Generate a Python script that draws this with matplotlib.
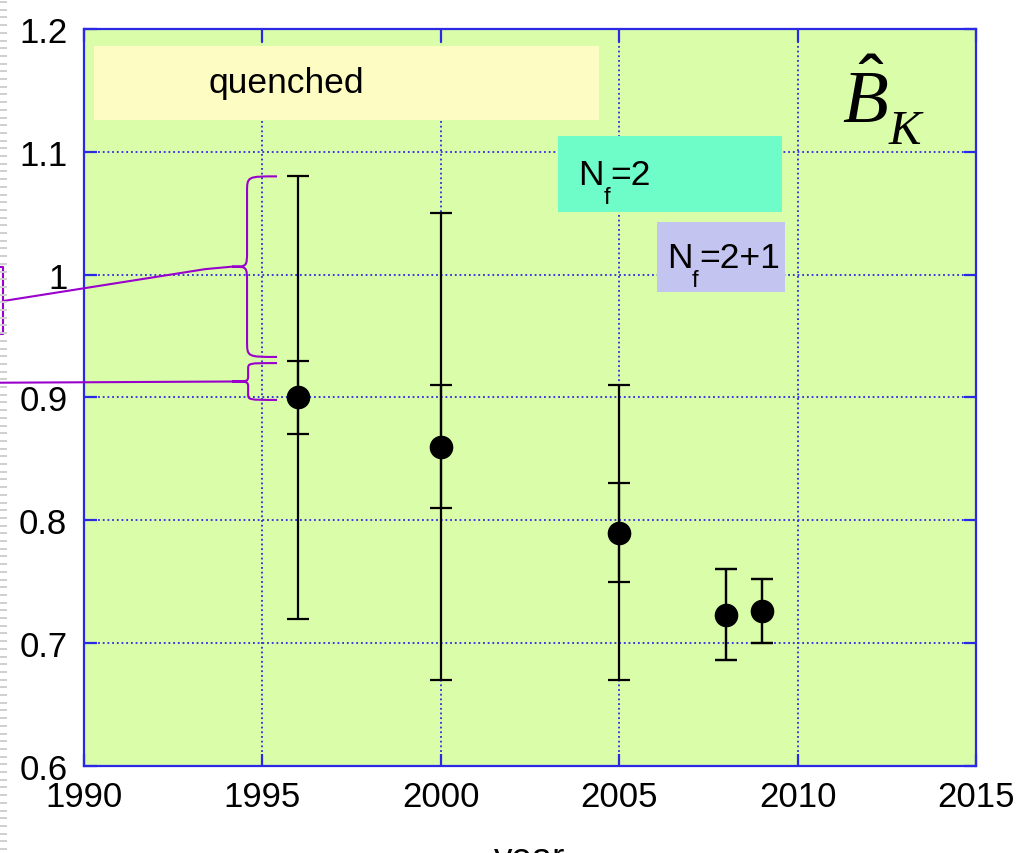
import numpy as np
import matplotlib
matplotlib.use("Agg")
import matplotlib.pyplot as plt
from matplotlib.path import Path
from matplotlib.patches import PathPatch, Rectangle
from matplotlib.collections import LineCollection
from matplotlib.lines import Line2D

plt.rcParams['font.family'] = ['Liberation Sans', 'DejaVu Sans']
plt.rcParams['mathtext.fontset'] = 'custom'
plt.rcParams['mathtext.rm'] = 'Liberation Sans'
plt.rcParams['mathtext.it'] = 'Liberation Serif:italic'
plt.rcParams['mathtext.bf'] = 'Liberation Sans:bold'

# B_K lattice results by year
years = [1996, 2000, 2005, 2008, 2009]
bk_values = [0.900, 0.860, 0.790, 0.723, 0.726]
err_stat = [0.030, 0.050, 0.040, 0.037, 0.026]
err_total = [0.180, 0.190, 0.120, 0.037, 0.026]

x_ticks = [1990, 1995, 2000, 2005, 2010, 2015]
y_ticks = [0.6, 0.7, 0.8, 0.9, 1.0, 1.1, 1.2]
y_tick_labels = ['0.6', '0.7', '0.8', '0.9', '1', '1.1', '1.2']

# shaded label panels: (x0, x1, y0, y1, colour)
panel_boxes = [
    (1990.28, 2004.43, 1.126, 1.186, '#fdfdc3'),
    (2003.28, 2009.56, 1.051, 1.113, '#6efdc8'),
    (2006.06, 2009.65, 0.986, 1.043, '#c4c4f0'),
]
# panel labels: (main, subscript, rest, x, baseline y)
panel_labels = [
    ('quenched', '', '', 1993.5, 1.149),
    ('N', 'f', '=2', 2003.85, 1.074),
    ('N', 'f', '=2+1', 2006.34, 1.006),
]

BLUE = '#2a2ae6'
PURPLE = '#9a00cc'
FS = 25.5

fig = plt.figure(figsize=(10.28, 8.54), dpi=100)
ax = fig.add_axes([0.0817, 0.1019, 0.8677, 0.863])
ax.set_facecolor('#dafdaa')
ax.set_xlim(1990, 2015)
ax.set_ylim(0.6, 1.2)
ax.set_xticks(x_ticks)
ax.set_yticks(y_ticks)
ax.set_yticklabels(y_tick_labels)

for s in ax.spines.values():
    s.set_color(BLUE)
    s.set_linewidth(1.6)
ax.tick_params(direction='in', length=9, width=1.6, color=BLUE,
               top=True, right=True, labelsize=25, labelcolor='black')
ax.tick_params(axis='x', pad=10)
ax.tick_params(axis='y', pad=12)
ax.grid(True, color=BLUE, linestyle=(0, (1, 1.6)), linewidth=1.3, zorder=0)
ax.set_axisbelow(True)

ax.set_xlabel('year', fontsize=26.5, labelpad=20)

# label panels
for x0, x1, y0, y1, col in panel_boxes:
    ax.add_patch(Rectangle((x0, y0), x1 - x0, y1 - y0, facecolor=col,
                           edgecolor='none', zorder=1))
for main, sub, rest, tx, ty in panel_labels:
    ax.text(tx, ty, main, fontsize=FS, ha='left', va='baseline', zorder=2)
    if sub:
        ax.annotate(sub, (tx, ty), xytext=(25, -19), textcoords='offset pixels',
                    fontsize=17, ha='left', va='baseline', zorder=2)
        ax.annotate(rest, (tx, ty), xytext=(32, 0), textcoords='offset pixels',
                    fontsize=FS, ha='left', va='baseline', zorder=2)

# quantity symbol
bx, by = 2011.24, 1.1243
ax.text(bx, by, r'$\hat{B}$', fontsize=54, ha='left', va='baseline', zorder=3)
ax.annotate('K', (bx, by), xytext=(47, -21), textcoords='offset pixels',
            fontsize=35, family='Liberation Serif', style='italic',
            ha='left', va='baseline', zorder=3)

# error bars: total (outer) and statistical (inner)
ax.errorbar(years, bk_values, yerr=err_total, fmt='none', ecolor='black',
            elinewidth=1.6, capsize=8, capthick=1.6, zorder=4)
ax.errorbar(years, bk_values, yerr=err_stat, fmt='o', color='black',
            markersize=16, ecolor='black', elinewidth=1.6, capsize=8,
            capthick=1.6, zorder=5)


def brace(ax, x_end, x_spine, x_tip, y_lo, y_hi, r):
    """Left-facing curly brace spanning y_lo..y_hi."""
    ym = 0.5 * (y_lo + y_hi)
    verts = [
        (x_end, y_hi),
        (x_spine, y_hi), (x_spine, y_hi), (x_spine, y_hi - r),
        (x_spine, ym + r),
        (x_spine, ym), (x_spine, ym), (x_tip, ym),
        (x_spine, ym), (x_spine, ym), (x_spine, ym - r),
        (x_spine, y_lo + r),
        (x_spine, y_lo), (x_spine, y_lo), (x_end, y_lo),
    ]
    codes = [Path.MOVETO,
             Path.CURVE4, Path.CURVE4, Path.CURVE4,
             Path.LINETO,
             Path.CURVE4, Path.CURVE4, Path.CURVE4,
             Path.CURVE4, Path.CURVE4, Path.CURVE4,
             Path.LINETO,
             Path.CURVE4, Path.CURVE4, Path.CURVE4]
    ax.add_patch(PathPatch(Path(verts, codes), facecolor='none',
                           edgecolor=PURPLE, linewidth=1.5, clip_on=False,
                           zorder=3))
    return ym


# braces marking the error components of the first point
x0 = years[0]
y_stat_hi = bk_values[0] + err_stat[0]
y_tot_hi = bk_values[0] + err_total[0]
ym1 = brace(ax, x0 - 0.59, x0 - 1.43, x0 - 1.85, y_stat_hi + 0.003, y_tot_hi, 0.013)
ym2 = brace(ax, x0 - 0.59, x0 - 1.40, x0 - 1.85, bk_values[0] - 0.002, y_stat_hi - 0.002, 0.005)

ax.add_line(Line2D([x0 - 1.85, x0 - 2.6, 1987.73], [ym1, ym1 - 0.002, 0.9785],
                   color=PURPLE, linewidth=1.5, clip_on=False, zorder=3))
ax.add_line(Line2D([x0 - 1.85, 1987.5], [ym2, ym2 - 0.001],
                   color=PURPLE, linewidth=1.5, clip_on=False, zorder=3))
ax.add_line(Line2D([1987.5, 1987.72, 1987.72, 1987.5],
                   [1.006, 1.006, 0.952, 0.952],
                   color=PURPLE, linewidth=1.5, clip_on=False, zorder=3))

# slide edge pattern on the left border
W, H = 1028.0, 854.0
segs = [[(0, y / H), (7 / W, y / H)] for y in np.arange(4, H, 7.7)]
fig.add_artist(LineCollection(segs, colors='#cfcfcf', linewidths=1.4,
                              transform=fig.transFigure))

fig.savefig('out.png', dpi=100)
